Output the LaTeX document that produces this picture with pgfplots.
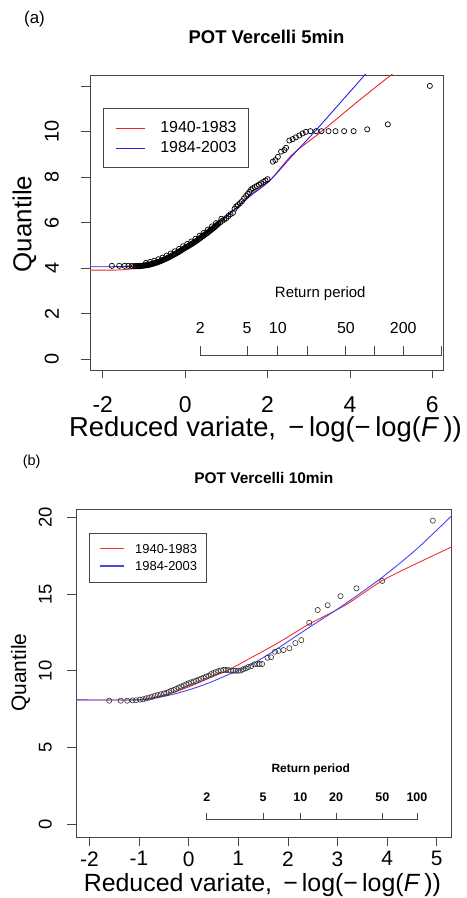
\documentclass[border=0pt]{standalone}
\usepackage{pgfplots}
\pgfplotsset{compat=1.18}
\usepackage{fontspec}
\setmainfont{Liberation Sans}
\usepackage{graphicx}
\definecolor{rred}{RGB}{235,35,35}
\definecolor{rblue}{RGB}{35,35,235}
\definecolor{rredb}{RGB}{240,50,50}
\definecolor{rblueb}{RGB}{70,70,238}
\definecolor{axcol}{RGB}{70,70,70}
\newcommand{\fs}[1]{\fontsize{#1}{#1}\selectfont}

\pgfplotstableread{
x y
-1.78 4.11
-1.60 4.11
-1.47 4.11
-1.38 4.11
-1.30 4.10
-1.24 4.10
-1.200 4.09
-1.175 4.10
-1.150 4.10
-1.125 4.09
-1.100 4.11
-1.075 4.10
-1.050 4.11
-1.025 4.12
-1.000 4.12
-0.975 4.13
-0.950 4.13
-0.925 4.15
-0.900 4.14
-0.875 4.16
-0.850 4.17
-0.825 4.18
-0.800 4.20
-0.775 4.21
-0.750 4.22
-0.725 4.24
-0.700 4.25
-0.675 4.27
-0.650 4.28
-0.625 4.30
-0.600 4.32
-0.575 4.34
-0.550 4.35
-0.525 4.38
-0.500 4.40
-0.475 4.41
-0.450 4.44
-0.425 4.46
-0.400 4.48
-0.375 4.51
-0.350 4.53
-0.325 4.55
-0.300 4.58
-0.275 4.60
-0.250 4.63
-0.225 4.65
-0.200 4.68
-0.175 4.71
-0.150 4.73
-0.125 4.76
-0.100 4.79
-0.075 4.82
-0.050 4.85
-0.025 4.87
0.000 4.90
0.025 4.93
0.050 4.95
0.075 4.98
0.100 5.01
0.125 5.04
0.150 5.06
0.175 5.09
0.200 5.12
0.225 5.15
0.250 5.18
0.275 5.21
0.300 5.24
0.325 5.28
0.350 5.31
0.375 5.34
0.400 5.38
0.425 5.41
0.450 5.44
0.475 5.48
0.500 5.51
0.525 5.54
0.550 5.58
0.575 5.61
0.600 5.65
0.625 5.68
0.650 5.72
0.675 5.75
0.700 5.79
0.725 5.83
0.750 5.87
0.775 5.91
0.800 5.95
0.850 6.02
0.900 6.09
0.950 6.14
1.000 6.21
1.05 6.30
1.10 6.38
1.16 6.44
1.20 6.62
1.24 6.72
1.28 6.78
1.33 6.86
1.38 6.95
1.43 7.08
1.48 7.18
1.52 7.27
1.56 7.36
1.60 7.46
1.64 7.52
1.69 7.57
1.74 7.62
1.79 7.68
1.84 7.74
1.90 7.80
1.95 7.86
2.00 7.92
2.13 8.69
2.19 8.76
2.25 8.90
2.33 9.13
2.41 9.20
2.45 9.30
2.53 9.62
2.61 9.68
2.69 9.76
2.77 9.84
2.85 9.93
2.93 10.00
3.04 10.03
3.18 10.03
3.31 10.03
3.48 10.03
3.65 10.03
3.86 10.03
4.09 10.03
4.42 10.11
4.92 10.33
5.94 12.02
-0.95 4.24
-0.85 4.28
-0.75 4.33
-0.65 4.40
-0.55 4.47
-0.45 4.56
-0.35 4.65
-0.25 4.75
-0.15 4.85
-0.05 4.97
0.05 5.07
0.15 5.18
0.25 5.30
0.35 5.43
0.45 5.56
0.55 5.70
0.65 5.84
0.75 5.99
0.88 6.18
}\ptsA

\pgfplotstableread{
x y
-2.31 3.92
-1.80 3.92
-1.50 3.94
-1.10 4.02
-0.80 4.15
-0.38 4.45
0.00 4.85
0.35 5.28
0.70 5.78
1.08 6.38
1.56 7.20
2.05 7.85
2.60 9.00
3.30 10.00
4.20 11.35
5.00 12.50
5.50 13.20
}\redA

\pgfplotstableread{
x y
-2.31 4.07
-1.80 4.07
-1.50 4.08
-1.10 4.10
-0.80 4.18
-0.38 4.53
0.00 4.90
0.35 5.35
0.70 5.85
1.08 6.40
1.56 7.15
2.05 7.85
2.60 8.95
3.14 10.00
3.80 11.35
4.36 12.50
4.60 13.00
}\blueA

\pgfplotstableread{
x y
-1.60 8.05
-1.37 8.05
-1.24 8.05
-1.13 8.07
-1.06 8.08
-0.98 8.12
-0.92 8.14
-0.86 8.20
-0.80 8.25
-0.74 8.30
-0.68 8.38
-0.62 8.42
-0.56 8.47
-0.50 8.52
-0.45 8.55
-0.40 8.62
-0.35 8.70
-0.30 8.75
-0.25 8.82
-0.20 8.90
-0.15 8.97
-0.10 9.05
-0.05 9.12
0.00 9.18
0.05 9.25
0.10 9.30
0.15 9.35
0.20 9.42
0.25 9.48
0.30 9.55
0.35 9.62
0.40 9.68
0.45 9.78
0.50 9.85
0.55 9.92
0.60 9.98
0.65 10.02
0.70 10.05
0.75 10.05
0.80 10.04
0.85 10.02
0.90 10.00
0.95 10.00
1.00 10.00
1.05 10.02
1.10 10.10
1.15 10.16
1.20 10.24
1.26 10.30
1.32 10.42
1.38 10.44
1.43 10.44
1.48 10.44
1.59 10.85
1.66 10.88
1.74 11.24
1.81 11.30
1.91 11.35
2.03 11.47
2.15 11.80
2.27 12.00
2.43 13.13
2.60 13.96
2.80 14.27
3.06 14.86
3.38 15.37
3.90 15.85
4.92 19.78
}\ptsB

\pgfplotstableread{
x y
-2.27 8.10
-1.10 8.10
-0.80 8.20
-0.40 8.50
0.00 8.95
0.40 9.50
0.80 10.05
1.20 10.75
1.60 11.45
2.00 12.20
2.43 13.05
3.17 14.30
3.90 15.87
4.60 17.00
5.30 18.07
}\redB

\pgfplotstableread{
x y
-2.27 8.10
-1.10 8.10
-0.80 8.15
-0.40 8.40
0.00 8.75
0.40 9.20
0.80 9.75
1.20 10.30
1.60 11.05
2.00 11.90
2.43 12.83
3.10 14.24
3.90 16.09
4.60 17.95
5.30 20.10
}\blueB

\begin{document}
\begin{tikzpicture}
\useasboundingbox (0bp,0bp) rectangle (467bp,898bp);

% ---------------- panel (a)
\node[font=\fs{17}] at (34.5bp,879bp) {(a)};
\node[font=\fs{18.5}\bfseries] at (266.5bp,861.3bp) {POT Vercelli 5min};

\begin{axis}[
  at={(90bp,528bp)}, anchor=south west,
  scale only axis, width=353bp, height=295bp,
  xmin=-2.31, xmax=6.26, ymin=-0.47, ymax=12.5,
  axis line style={axcol, line width=0.8bp},
  xtick={-2,0,2,4,6}, xticklabels={-2,0,2,4,6},
  ytick={0,2,4,6,8,10,12}, yticklabels={0,2,4,6,8,10,{}},
  tick pos=left, tick align=outside, major tick length=8.5bp,
  tick style={axcol, line width=0.8bp},
  xticklabel style={font=\fs{23}, inner sep=0pt, yshift=-6.7bp},
  xticklabel shift=11bp,
  yticklabel style={font=\fs{20}, rotate=90, anchor=south, inner sep=0pt},
  yticklabel shift=22.5bp,
  xlabel={Reduced variate,\hspace{0.45em}−\,log(−\,log(\textit{F}\,))},
  ylabel={Quantile},
  xlabel style={at={(axis description cs:0.497,-0.226)}, anchor=base, font=\fs{27.5}},
  ylabel style={at={(axis description cs:-0.166,0.495)}, anchor=base, font=\fs{26}},
  legend style={at={(axis description cs:0.037,0.887)}, anchor=north west,
    draw=axcol, line width=0.8bp, fill=white, font=\fs{16},
    inner xsep=12bp, inner ysep=13bp, row sep=7.5bp, column sep=15bp,
    nodes={inner sep=0pt}},
  legend cell align=left,
  legend image code/.code={\draw[#1, line width=0.9bp] (0bp,0bp) -- (29bp,0bp);},
]
\addplot[only marks, mark=o, mark size=2.6bp, black, mark options={line width=0.7bp}, forget plot] table[x=x,y=y] {\ptsA};
\addplot[rred, line width=0.9bp, smooth, forget plot] table[x=x,y=y] {\redA};
\addplot[rblue, line width=0.9bp, smooth, forget plot] table[x=x,y=y] {\blueA};
\addlegendimage{rred, line width=0.9bp}
\addlegendentry{1940-1983}
\addlegendimage{rblue, line width=0.9bp}
\addlegendentry{1984-2003}
% return period axis
\addplot[axcol, line width=0.8bp, forget plot] coordinates {(0.3665,0.58) (0.3665,0.16) (6.2136,0.16) (6.2136,0.58)};
\addplot[axcol, line width=0.8bp, forget plot] coordinates {(1.4999,0.16) (1.4999,0.58)};
\addplot[axcol, line width=0.8bp, forget plot] coordinates {(2.2504,0.16) (2.2504,0.58)};
\addplot[axcol, line width=0.8bp, forget plot] coordinates {(2.9702,0.16) (2.9702,0.58)};
\addplot[axcol, line width=0.8bp, forget plot] coordinates {(3.9019,0.16) (3.9019,0.58)};
\addplot[axcol, line width=0.8bp, forget plot] coordinates {(4.6001,0.16) (4.6001,0.58)};
\addplot[axcol, line width=0.8bp, forget plot] coordinates {(5.2958,0.16) (5.2958,0.58)};
\node[font=\fs{16}] at (axis cs:0.3665,1.38) {2};
\node[font=\fs{16}] at (axis cs:1.4999,1.38) {5};
\node[font=\fs{16}] at (axis cs:2.2504,1.38) {10};
\node[font=\fs{16}] at (axis cs:3.9019,1.38) {50};
\node[font=\fs{16}] at (axis cs:5.2958,1.38) {200};
\node[font=\fs{15}] at (axis cs:3.28,2.9) {Return period};
\end{axis}

% ---------------- panel (b)
\node[font=\fs{14.5}] at (31.7bp,436.3bp) {(b)};
\node[font=\fs{15.5}\bfseries] at (263.9bp,419.7bp) {POT Vercelli 10min};

\begin{axis}[
  at={(76bp,60.7bp)}, anchor=south west,
  scale only axis, width=375.7bp, height=328bp,
  xmin=-2.27, xmax=5.30, ymin=-0.85, ymax=20.52,
  axis line style={axcol, line width=0.8bp},
  xtick={-2,-1,0,1,2,3,4,5}, xticklabels={-2,-1,0,1,2,3,4,5},
  ytick={0,5,10,15,20}, yticklabels={0,5,10,15,20},
  tick pos=left, tick align=outside, major tick length=9bp,
  tick style={axcol, line width=0.8bp},
  xticklabel style={font=\fs{21}, inner sep=0pt},
  xticklabel shift=5bp,
  yticklabel style={font=\fs{18.5}, rotate=90, anchor=south, inner sep=0pt},
  yticklabel shift=15bp,
  xlabel={Reduced variate,\hspace{0.45em}−\,log(−\,log(\textit{F}\,))},
  ylabel={Quantile},
  xlabel style={at={(axis description cs:0.496,-0.166)}, anchor=base, font=\fs{25}},
  ylabel style={at={(axis description cs:-0.133,0.502)}, anchor=base, font=\fs{21}},
  legend style={at={(axis description cs:0.035,0.927)}, anchor=north west,
    draw=axcol, line width=0.8bp, fill=white, font=\fs{13},
    inner xsep=9.5bp, inner ysep=10.5bp, row sep=6.6bp, column sep=10.7bp,
    nodes={inner sep=0pt}},
  legend cell align=left,
  legend image code/.code={\draw[#1, line width=1.1bp] (0bp,0.5bp) -- (24.3bp,0.5bp);},
]
\addplot[only marks, mark=o, mark size=2.6bp, black!80, mark options={line width=0.6bp}, forget plot] table[x=x,y=y] {\ptsB};
\addplot[rredb, line width=0.9bp, smooth, forget plot] table[x=x,y=y] {\redB};
\addplot[rblueb, line width=0.9bp, smooth, forget plot] table[x=x,y=y] {\blueB};
\addlegendimage{rredb, line width=1.1bp}
\addlegendentry{1940-1983}
\addlegendimage{rblueb, line width=1.1bp}
\addlegendentry{1984-2003}
\addplot[axcol, line width=0.8bp, forget plot] coordinates {(0.3665,0.76) (0.3665,0.33) (4.6001,0.33) (4.6001,0.76)};
\addplot[axcol, line width=0.8bp, forget plot] coordinates {(1.4999,0.33) (1.4999,0.76)};
\addplot[axcol, line width=0.8bp, forget plot] coordinates {(2.2504,0.33) (2.2504,0.76)};
\addplot[axcol, line width=0.8bp, forget plot] coordinates {(2.9702,0.33) (2.9702,0.76)};
\addplot[axcol, line width=0.8bp, forget plot] coordinates {(3.9019,0.33) (3.9019,0.76)};
\node[font=\fs{12.5}\bfseries] at (axis cs:0.3665,1.76) {2};
\node[font=\fs{12.5}\bfseries] at (axis cs:1.4999,1.76) {5};
\node[font=\fs{12.5}\bfseries] at (axis cs:2.2504,1.76) {10};
\node[font=\fs{12.5}\bfseries] at (axis cs:2.9702,1.76) {20};
\node[font=\fs{12.5}\bfseries] at (axis cs:3.9019,1.76) {50};
\node[font=\fs{12.5}\bfseries] at (axis cs:4.6001,1.76) {100};
\node[font=\fs{12}\bfseries] at (axis cs:2.46,3.58) {Return period};
\end{axis}
\end{tikzpicture}
\end{document}
